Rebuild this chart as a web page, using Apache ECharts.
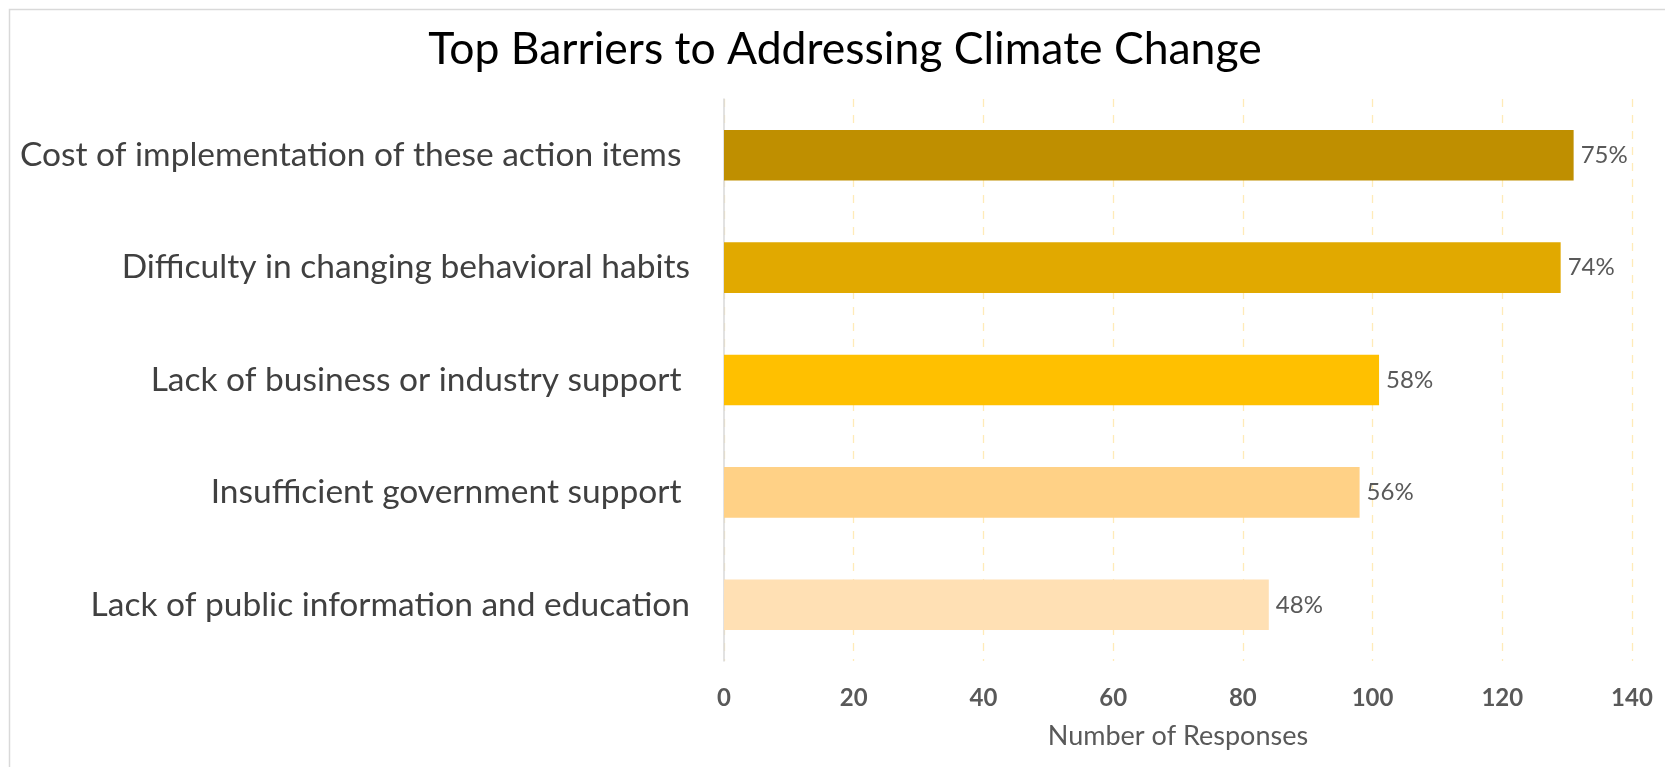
<!DOCTYPE html>
<html>
<head>
<meta charset="utf-8">
<script src="https://cdn.jsdelivr.net/npm/echarts@6/dist/echarts.min.js"></script>
<style>
html,body{margin:0;padding:0;background:#fff;}
#chart{width:1665px;height:767px;}
</style>
</head>
<body>
<div id="chart"></div>
<script>
const categories = [
  "Cost of implementation of these action items ",
  "Difficulty in changing behavioral habits",
  "Lack of business or industry support ",
  "Insufficient government support ",
  "Lack of public information and education"
];
const responses = [131, 129, 101, 98, 84];
const percentLabels = ["75%", "74%", "58%", "56%", "48%"];
const barColors = ["#BF8F00", "#E1A900", "#FFC000", "#FFD186", "#FFE0B4"];
const xTicks = [0, 20, 40, 60, 80, 100, 120, 140];

const chart = echarts.init(document.getElementById('chart'), null, {renderer: 'canvas'});
const FONT = 'Lato';
chart.setOption({
  backgroundColor: '#ffffff',
  animation: false,
  graphic: [{
    type: 'rect',
    shape: {x: 9.5, y: 9.5, width: 1700, height: 800},
    style: {fill: 'none', stroke: '#D9D9D9', lineWidth: 1.5},
    silent: true
  }],
  title: {
    text: 'Top Barriers to Addressing Climate Change',
    left: 840,
    top: 22,
    textAlign: 'center',
    textStyle: {fontFamily: FONT, fontSize: 44.5, fontWeight: 'normal', color: '#000000'}
  },
  grid: {left: 724, right: 33, top: 99, bottom: 106, containLabel: false},
  xAxis: {
    type: 'value',
    min: xTicks[0],
    max: xTicks[xTicks.length - 1],
    interval: 20,
    name: 'Number of Responses',
    nameLocation: 'middle',
    nameGap: 62,
    nameTextStyle: {fontFamily: FONT, fontSize: 27, color: '#595959'},
    axisLine: {show: false},
    axisTick: {show: false},
    axisLabel: {fontFamily: FONT, fontSize: 24, fontWeight: 'bold', color: '#595959', margin: 25},
    splitLine: {show: true, lineStyle: {color: '#FFEBB8', type: [8, 8], width: 1.3}}
  },
  yAxis: {
    type: 'category',
    data: categories,
    inverse: true,
    axisLine: {show: true, lineStyle: {color: '#D9D9D9', width: 1.5}},
    axisTick: {show: false},
    axisLabel: {fontFamily: FONT, fontSize: 33.5, color: '#404040', margin: 34}
  },
  series: [{
    type: 'bar',
    data: responses.map((v, i) => ({value: v, itemStyle: {color: barColors[i]}})),
    barWidth: '45%',
    label: {
      show: true,
      position: 'right',
      distance: 7,
      fontFamily: FONT,
      fontSize: 24,
      color: '#595959',
      formatter: p => percentLabels[p.dataIndex]
    }
  }]
});
</script>
</body>
</html>
